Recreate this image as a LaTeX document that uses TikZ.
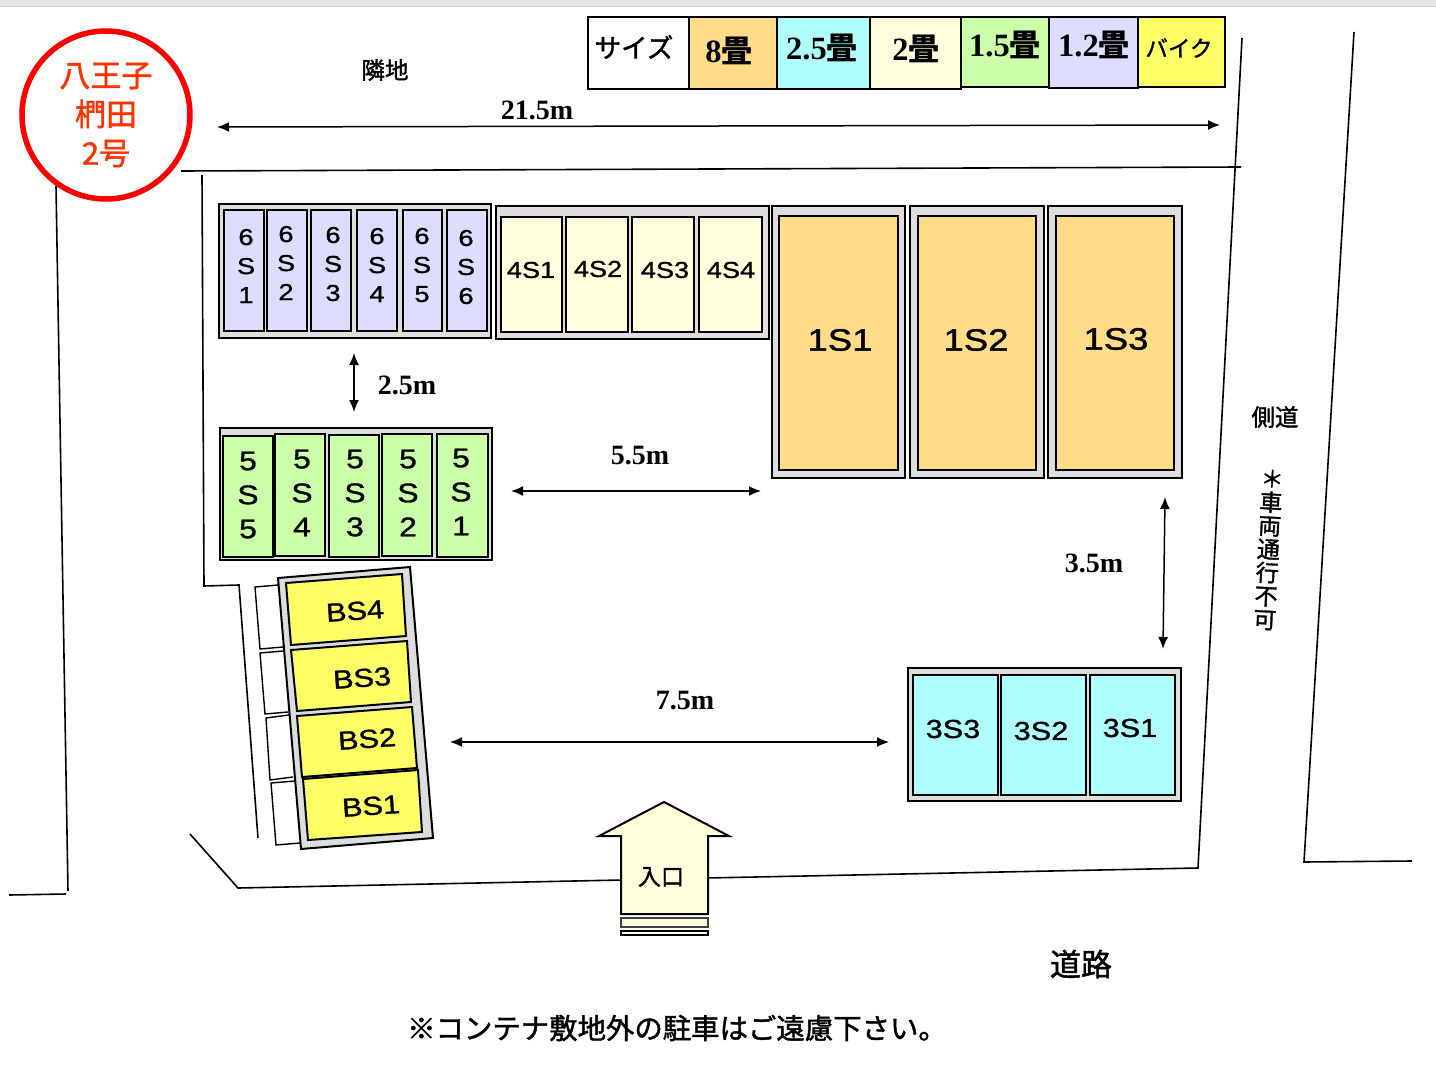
\documentclass[tikz,border=0pt]{standalone}
\usepackage{fontspec}
\usetikzlibrary{arrows.meta}
\newfontfamily\cjk{Noto Sans CJK JP}
\newfontfamily\cjkm[FakeBold=1.5]{Noto Sans CJK JP}
\newfontfamily\lab[FakeStretch=1.18,FakeBold=1.2]{Liberation Sans}
\newfontfamily\ser{Liberation Serif}
\definecolor{cPur}{HTML}{DDDDFF}
\definecolor{cCre}{HTML}{FFFFDD}
\definecolor{cOra}{HTML}{FFDD88}
\definecolor{cGrn}{HTML}{CCFFAA}
\definecolor{cCya}{HTML}{B0FFFF}
\definecolor{cYel}{HTML}{FFFF66}
\definecolor{cGry}{HTML}{DDDDDD}
\definecolor{cRed}{HTML}{FF3300}
\tikzset{
  ln/.style={draw=black,line width=1.6pt},
  dim/.style={draw=black,line width=1.5pt,{Latex[length=12pt,width=10pt]}-{Latex[length=12pt,width=10pt]}},
  casing/.style={draw=black,fill=cGry,line width=2pt},
  slot/.style={draw=black,line width=2pt},
  txt/.style={inner sep=0pt,text=black},
  dimlab/.style={txt,font=\ser\bfseries\fontsize{28}{28}\selectfont},
  jp/.style={txt,font=\cjkm\fontsize{23.5}{23.5}\selectfont},
  legj/.style={txt,font=\cjkm\fontsize{25}{25}\selectfont},
  legn/.style={txt,font=\ser\bfseries\fontsize{32.5}{32.5}\selectfont},
  s6/.style={txt,align=center,font=\lab\fontsize{23}{29}\selectfont},
  s5/.style={txt,align=center,font=\lab\fontsize{27}{34}\selectfont},
  s4/.style={txt,font=\lab\fontsize{23}{23}\selectfont},
  s1/.style={txt,font=\lab\fontsize{31}{31}\selectfont},
  s3/.style={txt,font=\lab\fontsize{26}{26}\selectfont},
  sb/.style={txt,rotate=4,font=\lab\fontsize{26}{26}\selectfont},
}
\newcommand{\slotbox}[6]{% name x0 y0 x1 y1 fill
  \path[slot,fill=#6] (#2,#3) rectangle (#4,#5) coordinate[pos=.5] (#1);}
\newcommand{\jo}{\cjk\bfseries\fontsize{31}{31}\selectfont 畳}
\begin{document}
\begin{tikzpicture}[x=1pt,y=-1pt]
\useasboundingbox (0,0) rectangle (1436,1084);
\fill[white] (0,0) rectangle (1436,1084);
\fill[black!10] (0,0) rectangle (1436,6);
\draw[black!20,line width=1pt] (0,6.5) -- (1436,6.5);

% site lines
\draw[ln] (181,171) -- (1241,167);
\draw[ln] (202,175) -- (204,586) -- (239,585) -- (258,838);
\draw[ln] (56,186) -- (68,891);
\draw[ln] (9,895) -- (66,894);
\draw[ln] (190,834) -- (238,888) -- (622,880);
\draw[ln] (706,878) -- (1198,868) -- (1242,38);
\draw[ln] (1354,32) -- (1304,862) -- (1412,861);

% badge
\node[circle,draw=red,fill=white,line width=5.5pt,minimum size=168pt,inner sep=0pt,align=center,text=cRed,
  font=\cjkm\fontsize{31}{39}\selectfont] (badge) at (106,115) {八王子\\椚田\\2号};

% legend
\path[slot,fill=white] (588,17) rectangle (689,89);
\path[slot,fill=cOra] (689,17) rectangle (777,89);
\path[slot,fill=cCya] (777,17) rectangle (870,89);
\path[slot,fill=cCre] (870,17) rectangle (961,89);
\path[slot,fill=cGrn] (961,17) rectangle (1049,87);
\path[slot,fill=cPur] (1049,17) rectangle (1138,88);
\path[slot,fill=cYel] (1138,17) rectangle (1225,87);
\node[legj,font=\cjkm\fontsize{26.5}{26}\selectfont] (lsize) at (634,47) {サイズ};
\node[legn] (l8) at (729,51) {8\jo};
\node[legn] (l25) at (822,48) {2.5\jo};
\node[legn] (l2) at (916,49) {2\jo};
\node[legn] (l15) at (1005,45) {1.5\jo};
\node[legn] (l12) at (1094,45) {1.2\jo};
\node[legj,font=\cjkm\fontsize{22.5}{23}\selectfont] (lbike) at (1179,48) {バイク};

% labels
\node[jp] (rinchi) at (385,70) {隣地};
\node[jp] (sokudo) at (1275,417) {側道};
\node[jp,font=\cjkm\fontsize{31}{31}\selectfont] (doro) at (1081,964) {道路};
\node[jp,font=\cjkm\fontsize{28.4}{28}\selectfont] (note) at (677,1028) {※コンテナ敷地外の駐車はご遠慮下さい。};
\node[jp,rotate=-3,align=center,font=\cjkm\fontsize{23}{23.5}\selectfont] (nopass) at (1268.5,550) {＊\\車\\両\\通\\行\\不\\可};

% dimension arrows
\coordinate (a1) at (217,127); \coordinate (a2) at (1220,125);
\draw[dim] (a1) -- (a2);
\coordinate (b1) at (354,353); \coordinate (b2) at (354,412);
\draw[dim] (b1) -- (b2);
\coordinate (c1) at (511,491); \coordinate (c2) at (761,491);
\draw[dim] (c1) -- (c2);
\coordinate (d1) at (1165,497); \coordinate (d2) at (1163,649);
\draw[dim] (d1) -- (d2);
\coordinate (e1) at (450,742); \coordinate (e2) at (889,742);
\draw[dim] (e1) -- (e2);
\node[dimlab] (t215) at (537,110) {21.5m};
\node[dimlab] (t25) at (407,385) {2.5m};
\node[dimlab] (t55) at (640,456) {5.5m};
\node[dimlab] (t35) at (1094,563) {3.5m};
\node[dimlab] (t75) at (685,701) {7.5m};

% block 6S
\path[casing] (219,204) rectangle (491,338);
\slotbox{a}{224}{210}{264}{331}{cPur}
\slotbox{a}{267}{210}{307}{331}{cPur}
\slotbox{a}{311}{210}{351}{331}{cPur}
\slotbox{a}{357}{210}{397}{331}{cPur}
\slotbox{a}{403}{210}{442}{331}{cPur}
\slotbox{a}{447}{210}{487}{331}{cPur}
\node[s6] (n61) at (246,266) {6\\S\\1};
\node[s6] (n62) at (286,263) {6\\S\\2};
\node[s6] (n63) at (333,264) {6\\S\\3};
\node[s6] (n64) at (377,265) {6\\S\\4};
\node[s6] (n65) at (422,265) {6\\S\\5};
\node[s6] (n66) at (466,267) {6\\S\\6};

% block 4S
\path[casing] (496,206) rectangle (769,339);
\slotbox{a}{501}{217}{562}{332}{cCre}
\slotbox{a}{566}{217}{628}{332}{cCre}
\slotbox{a}{632}{217}{694}{332}{cCre}
\slotbox{a}{699}{217}{762}{332}{cCre}
\node[s4] (n41) at (531,270) {4S1};
\node[s4] (n42) at (598,269) {4S2};
\node[s4] (n43) at (665,270) {4S3};
\node[s4] (n44) at (731,270) {4S4};

% block 1S
\path[casing] (772,206) rectangle (905,478);
\path[casing] (910,206) rectangle (1044,478);
\path[casing] (1048,206) rectangle (1182,478);
\slotbox{a}{779}{216}{898}{470}{cOra}
\slotbox{a}{918}{216}{1036}{470}{cOra}
\slotbox{a}{1056}{216}{1174}{470}{cOra}
\node[s1] (n11) at (840,340) {1S1};
\node[s1] (n12) at (976,340) {1S2};
\node[s1] (n13) at (1116,339) {1S3};

% block 5S
\path[casing] (220,428) rectangle (492,560);
\slotbox{a}{223}{436}{273}{557}{cGrn}
\slotbox{a}{275}{434}{325}{556}{cGrn}
\slotbox{a}{329}{435}{379}{557}{cGrn}
\slotbox{a}{382}{434}{432}{556}{cGrn}
\slotbox{a}{437}{434}{488}{557}{cGrn}
\node[s5] (n55) at (248,495) {5\\S\\5};
\node[s5] (n54) at (302,493) {5\\S\\4};
\node[s5] (n53) at (355,493) {5\\S\\3};
\node[s5] (n52) at (408,493) {5\\S\\2};
\node[s5] (n51) at (461,492) {5\\S\\1};

% block 3S
\path[casing] (908,668) rectangle (1181,801);
\slotbox{a}{913}{675}{998}{795}{cCya}
\slotbox{a}{1001}{675}{1086}{795}{cCya}
\slotbox{a}{1090}{675}{1175}{795}{cCya}
\node[s3] (n33) at (953,729) {3S3};
\node[s3] (n32) at (1041,731) {3S2};
\node[s3] (n31) at (1130,728) {3S1};

% bike parking
\draw[black,line width=1.4pt] (278,585) -- (255,587) -- (260,649) -- (283,647);
\draw[black,line width=1.4pt] (283,651) -- (260,653) -- (265,714) -- (288,712);
\draw[black,line width=1.4pt] (289,715) -- (266,718) -- (270,780) -- (293,777);
\draw[black,line width=1.4pt] (295,781) -- (271,783) -- (276,845) -- (300,843);
\draw[casing] (278,578) -- (410,567) -- (433,838) -- (301,849) -- cycle;
\draw[slot,fill=cYel] (286,583) -- (402,574) -- (406,636) -- (291,645) -- cycle;
\draw[slot,fill=cYel] (291,650) -- (407,641) -- (411,702) -- (297,711) -- cycle;
\draw[slot,fill=cYel] (297,716) -- (412,707) -- (417,768) -- (302,777) -- cycle;
\draw[slot,fill=cYel] (303,779) -- (418,770) -- (422,832) -- (308,840) -- cycle;
\node[sb] (nb4) at (355,611) {BS4};
\node[sb] (nb3) at (362,678) {BS3};
\node[sb] (nb2) at (367,739) {BS2};
\node[sb] (nb1) at (371,806) {BS1};

% entrance
\draw[black,line width=2pt,fill=cCre,line join=miter] (664,802) -- (729,836) -- (708,836) -- (708,914) -- (621,914) -- (621,836) -- (599,836) -- cycle;
\draw[black!75,line width=2pt,fill=cCre] (621,918) rectangle (708,927);
\draw[black,line width=2pt,fill=cCre] (621,931) rectangle (708,935);
\node[jp,font=\cjkm\fontsize{23}{23}\selectfont] (entry) at (661,877) {入口};
\end{tikzpicture}
\end{document}
